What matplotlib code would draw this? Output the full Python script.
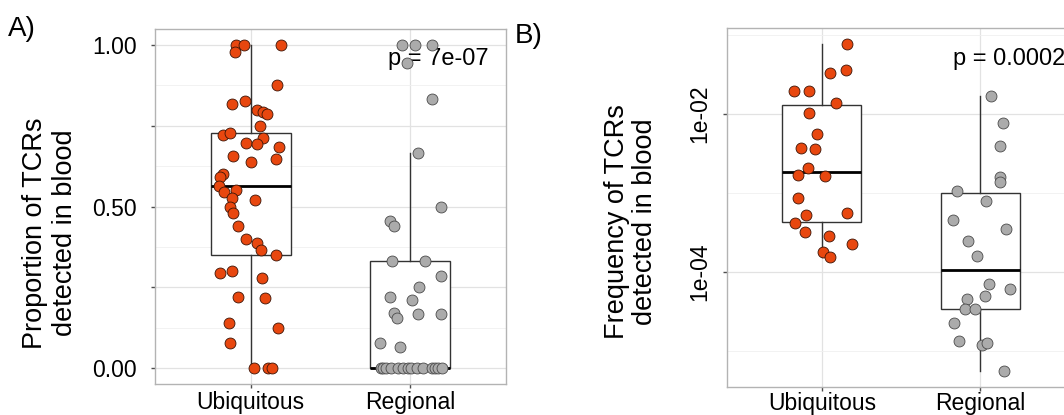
import numpy as np
import matplotlib.pyplot as plt
from matplotlib.ticker import FixedLocator, NullFormatter

plt.rcParams['font.family'] = ['Liberation Sans', 'DejaVu Sans']

# ----------------------------
# Data
# ----------------------------

groups = ["Ubiquitous", "Regional"]

# Panel A: proportion of TCRs detected in blood (jitter offset, value)
ubi_prop_jit = np.array([-15, -7, -16, 30, 26, -19, -6, 6, 12, 16, 9, -28, -21, 12, -5, 6,
                         28, -18, 25, 0, -28, -31, -32, -27, -15, -19, 4, -21, -18, -13,
                         -5, 6, 10, 25, -31, -19, 11, -13, 14, -22, 27, -21, 3, 17, 21]) / 160
ubi_prop = np.array([1.0, 1.0, 0.978, 1.0, 0.876, 0.817, 0.827, 0.799, 0.793, 0.786, 0.749,
                     0.721, 0.727, 0.712, 0.697, 0.694, 0.684, 0.656, 0.647, 0.638, 0.601,
                     0.591, 0.563, 0.545, 0.551, 0.526, 0.520, 0.498, 0.48, 0.44, 0.399,
                     0.387, 0.365, 0.35, 0.294, 0.300, 0.279, 0.22, 0.217, 0.139, 0.124,
                     0.077, 0.0, 0.0, 0.0])

reg_prop_jit = np.array([-8, 5, 22, -3, 22, 8, 31, -20, -16, -18, 15, 31, 9, -20, 2, -16,
                         -13, 8, 31, -30, -10, -29, -27, -24, -19, -12, -7, -2, 1, 7, 13,
                         22, 25, 28, 32]) / 160
reg_prop = np.array([1.0, 1.0, 1.0, 0.944, 0.833, 0.666, 0.498, 0.455, 0.44, 0.331, 0.331,
                     0.285, 0.25, 0.22, 0.21, 0.17, 0.155, 0.167, 0.167, 0.077, 0.065,
                     0, 0, 0, 0, 0, 0, 0, 0, 0, 0, 0, 0, 0, 0])

# box stats (q1, median, q3, lower whisker, upper whisker)
prop_q1 = [0.35, 0.0]
prop_med = [0.563, 0.0]
prop_q3 = [0.727, 0.331]
prop_lo = [0.0, 0.0]
prop_hi = [1.0, 0.666]

# Panel B: frequency of TCRs detected in blood (log10 values)
ubi_freq_jit = np.array([25, 8, 24, -28, -13, 14, -13, -5, -21, -7, -14, -24, 3, -24, -16,
                         25, -27, -17, 7, 30, 1, 8]) / 159
ubi_freq_log = np.array([-1.114, -1.48, -1.443, -1.71, -1.71, -1.86, -1.987, -2.253, -2.43,
                         -2.44, -2.684, -2.77, -2.785, -3.06, -3.28, -3.25, -3.38, -3.5,
                         -3.54, -3.65, -3.75, -3.81])

reg_freq_jit = np.array([11, 23, 20, 20, 20, -23, 6, -27, 26, -12, -3, 9, 30, 5, -13, -15,
                         -5, -26, -21, 2, 7, 24]) / 159
reg_freq_log = np.array([-1.772, -2.114, -2.405, -2.797, -2.86, -2.975, -3.1, -3.342, -3.456,
                         -3.608, -3.797, -4.152, -4.215, -4.304, -4.342, -4.468, -4.468,
                         -4.646, -4.873, -4.924, -4.9, -5.253])

freq_q1 = [-3.367, -4.468]
freq_med = [-2.734, -3.975]
freq_q3 = [-1.886, -3.0]
freq_lo = [-3.81, -5.253]
freq_hi = [-1.114, -1.772]

p_text_a = "p = 7e-07"
p_text_b = "p = 0.0002"

# ----------------------------
# Styling
# ----------------------------

ORANGE = "#E8470F"
GREY = "#ABABAB"
BORDER = "#B3B3B3"


def style_axes(ax):
    for sp in ax.spines.values():
        sp.set_color(BORDER)
        sp.set_linewidth(1.0)
    ax.set_xlim(0.4, 2.6)
    ax.set_xticks([1, 2])
    ax.set_xticklabels(groups, fontsize=16.5)
    ax.tick_params(axis="both", which="major", length=3, width=1, color="#4d4d4d",
                   labelcolor="black")
    ax.tick_params(axis="both", which="minor", length=0)
    ax.grid(True, which="major", color="#E2E2E2", linewidth=0.9, zorder=0)
    ax.grid(True, which="minor", axis="y", color="#F0F0F0", linewidth=0.6, zorder=0)
    ax.set_axisbelow(True)


def draw_boxes(ax, q1, med, q3, lo, hi, transform=lambda v: v):
    stats = []
    for i in range(len(groups)):
        stats.append({
            "q1": transform(q1[i]), "med": transform(med[i]), "q3": transform(q3[i]),
            "whislo": transform(lo[i]), "whishi": transform(hi[i]), "fliers": []
        })
    ax.bxp(stats, positions=[1, 2], widths=0.5, showcaps=False, showfliers=False,
           patch_artist=True, manage_ticks=False,
           boxprops=dict(facecolor="white", edgecolor="#333333", linewidth=1.0),
           whiskerprops=dict(color="#333333", linewidth=1.0),
           medianprops=dict(color="black", linewidth=2.0), zorder=2)


fig = plt.figure(figsize=(10.64, 4.15), dpi=100)
W, H = 1064, 415

# ----------------------------
# Panel A
# ----------------------------

axA = fig.add_axes([155 / W, 1 - 384 / H, 351 / W, 355 / H])
style_axes(axA)
draw_boxes(axA, prop_q1, prop_med, prop_q3, prop_lo, prop_hi)
axA.scatter(1 + ubi_prop_jit, ubi_prop, s=62, facecolor=ORANGE, edgecolor="#3b1406",
            linewidth=0.6, zorder=3)
axA.scatter(2 + reg_prop_jit, reg_prop, s=62, facecolor=GREY, edgecolor="#4a4a4a",
            linewidth=0.6, zorder=3)
axA.set_ylim(-0.05, 1.05)
axA.yaxis.set_major_locator(FixedLocator([0, 0.25, 0.5, 0.75, 1.0]))
axA.set_yticklabels(["0.00", "", "0.50", "", "1.00"], fontsize=16.5)
axA.yaxis.set_minor_locator(FixedLocator([0.125, 0.375, 0.625, 0.875]))
axA.tick_params(axis="y", pad=10)
axA.tick_params(axis="x", pad=2)
axA.text(1.8625, 0.938, p_text_a, fontsize=17, va="baseline", ha="left", zorder=2.5)

fig.text(50 / W, 1 - 233 / H, "Proportion of TCRs\ndetected in blood", rotation=90,
         ha="center", va="center", fontsize=19.5, multialignment="center", linespacing=1.15)
fig.text(8 / W, 1 - 36 / H, "A)", fontsize=20, ha="left", va="baseline")

# ----------------------------
# Panel B
# ----------------------------

axB = fig.add_axes([727 / W, 1 - 387 / H, 348 / W, 359 / H])
style_axes(axB)
axB.set_yscale("log")
draw_boxes(axB, freq_q1, freq_med, freq_q3, freq_lo, freq_hi,
           transform=lambda v: 10.0 ** v)
axB.scatter(1 + ubi_freq_jit, 10.0 ** ubi_freq_log, s=62, facecolor=ORANGE,
            edgecolor="#3b1406", linewidth=0.6, zorder=3)
axB.scatter(2 + reg_freq_jit, 10.0 ** reg_freq_log, s=62, facecolor=GREY,
            edgecolor="#4a4a4a", linewidth=0.6, zorder=3)
axB.set_ylim(10 ** -5.456, 10 ** -0.911)
axB.yaxis.set_major_locator(FixedLocator([1e-4, 1e-2]))
axB.yaxis.set_minor_locator(FixedLocator([1e-5, 1e-3, 1e-1]))
axB.yaxis.set_minor_formatter(NullFormatter())
axB.set_yticklabels(["1e-04", "1e-02"], fontsize=16.5, rotation=90, va="center")
axB.tick_params(axis="y", pad=8)
axB.tick_params(axis="x", pad=0.5)
axB.text(1.83, 10 ** -1.38, p_text_b, fontsize=17, va="baseline", ha="left", zorder=2.5)

fig.text(631 / W, 1 - 222 / H, "Frequency of TCRs\ndetected in blood", rotation=90,
         ha="center", va="center", fontsize=19.5, multialignment="center", linespacing=1.15)
fig.text(515 / W, 1 - 43 / H, "B)", fontsize=20, ha="left", va="baseline")

fig.savefig("out.png", dpi=100)
